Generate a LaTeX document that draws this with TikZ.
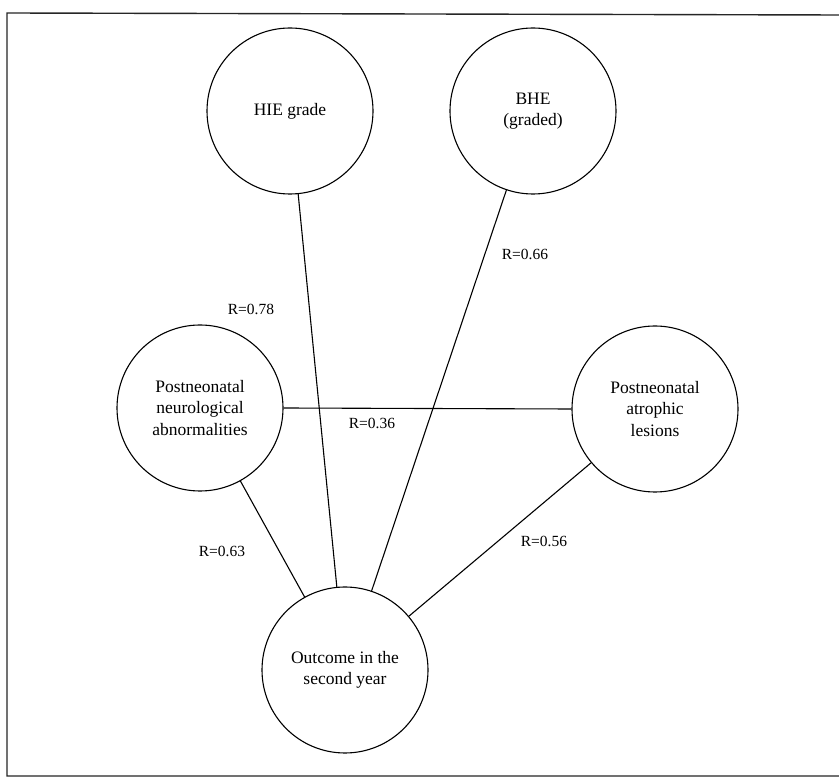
\documentclass[tikz,border=0pt]{standalone}
\usepackage{fontspec}
\setmainfont{Liberation Serif}
\begin{document}
\begin{tikzpicture}[x=1pt,y=1pt,
  circ/.style={circle,draw,line width=1.1pt,minimum size=166pt,inner sep=0pt,align=center,font=\fontsize{17.5}{21.5}\selectfont},
  conn/.style={line width=1.1pt},
  rlab/.style={font=\fontsize{15.5}{18}\selectfont,inner sep=0pt},
  frame/.style={line width=1.4pt,draw=black!85}]
\useasboundingbox (0,0) rectangle (839,780);
\fill[white] (0,0) rectangle (839,780);
% frame
\coordinate (ftl) at (7,767);
\coordinate (ftr) at (839,765);
\coordinate (fbl) at (7,4);
\coordinate (fbr) at (839,4);
\draw[frame] (ftr) -- (ftl) -- (fbl) -- (fbr);
% nodes
\node[circ] (hie) at (290,669) {HIE grade};
\node[circ] (bhe) at (533,669) {BHE\\(graded)};
\node[circ] (neu) at (200,372) {Postneonatal\\neurological\\abnormalities};
\node[circ] (atr) at (655,371) {Postneonatal\\atrophic\\lesions};
\node[circ] (out) at (345,110) {Outcome in the\\second year};
% connectors
\draw[conn] (hie) -- (out);
\draw[conn] (bhe) -- (out);
\draw[conn] (neu) -- (out);
\draw[conn] (atr) -- (out);
\draw[conn] (neu.east) -- (atr.west);
% labels
\node[rlab] (l78) at (251,471) {R=0.78};
\node[rlab] (l66) at (525,526) {R=0.66};
\node[rlab] (l36) at (372,357) {R=0.36};
\node[rlab] (l63) at (222,229) {R=0.63};
\node[rlab] (l56) at (544,239) {R=0.56};
\end{tikzpicture}
\end{document}
